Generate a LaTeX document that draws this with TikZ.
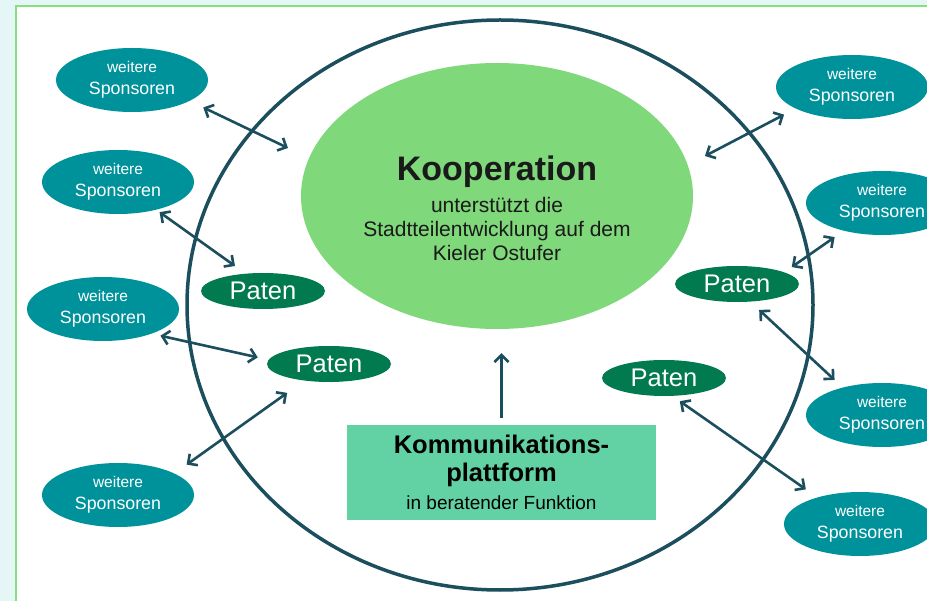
\documentclass[tikz,border=0pt]{standalone}
\usepackage{fontspec}
\setmainfont{Liberation Sans}
\usetikzlibrary{arrows.meta,shapes.geometric}
\definecolor{bgcol}{HTML}{E4F6F6}
\definecolor{framecol}{HTML}{86E07E}
\definecolor{ringcol}{HTML}{1C4F5E}
\definecolor{sponsorcol}{HTML}{00929B}
\definecolor{patecol}{HTML}{007A4E}
\definecolor{koopcol}{HTML}{7FD87A}
\definecolor{boxcol}{HTML}{62D1A3}
\definecolor{textcol}{HTML}{1A1A1A}
\newcommand{\weitere}{{\fontsize{15.5}{22}\selectfont weitere}\\Sponsoren}
\tikzset{>/.tip={Straight Barb[length=7pt,width=14pt]},
  sponsor/.style={ellipse, fill=sponsorcol, text=white, minimum width=152pt,
    minimum height=64pt, inner sep=0pt, align=center,
    font=\fontsize{17.8}{22}\selectfont},
  pate/.style={ellipse, fill=patecol, text=white, minimum width=124pt,
    minimum height=36pt, inner sep=0pt, font=\fontsize{25.5}{30}\selectfont},
  link/.style={<->, draw=ringcol, line width=2.6pt}}
\begin{document}
\begin{tikzpicture}[x=1pt,y=-1pt]
\useasboundingbox (0,0) rectangle (927,601);
\clip (0,0) rectangle (927,601);
% frame
\fill[bgcol] (0,0) rectangle (927,601);
\filldraw[fill=white, draw=framecol, line width=2pt] (16,6) rectangle (940,612);
% ring
\draw[ringcol, line width=3.5pt] (500,305) ellipse [x radius=313pt, y radius=285pt];
% centre
\node[ellipse, fill=koopcol, minimum width=392pt, minimum height=266pt] (koop) at (497,196) {};
\node[align=center, text=textcol, font=\fontsize{21}{24}\selectfont] (kooptext) at (497,208)
  {{\fontsize{34}{40}\selectfont\bfseries Kooperation}\\[8pt]unterstützt die\\Stadtteilentwicklung auf dem\\Kieler Ostufer};
\node[fill=boxcol, minimum width=309pt, minimum height=95pt, align=center,
  font=\fontsize{25.5}{28}\selectfont\bfseries] (kp) at (501.5,472.5)
  {Kommunikations-\\plattform\\{\fontsize{19}{27}\selectfont\mdseries in beratender Funktion}};
% Paten
\node[pate] (pat1) at (263,291) {Paten};
\node[pate] (pat2) at (329,364) {Paten};
\node[pate] (pat3) at (737,284) {Paten};
\node[pate] (pat4) at (664,378) {Paten};
% Sponsoren
\node[sponsor] (sp1) at (132,80)  {\weitere};
\node[sponsor] (sp2) at (118,182) {\weitere};
\node[sponsor] (sp3) at (103,309) {\weitere};
\node[sponsor] (sp4) at (118,495) {\weitere};
\node[sponsor] (sp5) at (852,87)  {\weitere};
\node[sponsor] (sp6) at (882,203) {\weitere};
\node[sponsor] (sp7) at (882,415) {\weitere};
\node[sponsor] (sp8) at (860,524) {\weitere};
\coordinate (ka) at (288,148);
\coordinate (ke) at (705,156);
% links
\draw[link, shorten <=15pt] (sp1.-20) -- (ka);
\draw[link, shorten <=4pt, shorten >=13pt] (sp2.-36) -- (pat1.135);
\draw[link, shorten <=9pt, shorten >=11pt] (sp3.-27) -- (pat2.176);
\draw[link, shorten <=21pt, shorten >=15pt] (pat2.-146) -- (sp4.21);
\draw[link, shorten >=13pt] (ke) -- (sp5.-159);
\draw[link, shorten <=9pt, shorten >=11pt] (pat3.14) -- (sp6.-144);
\draw[link, shorten <=12pt, shorten >=11pt] (pat3.-53) -- (sp7.145);
\draw[link, shorten <=9pt, shorten >=14pt] (pat4.-65) -- (sp8.148);
\draw[->, draw=ringcol, line width=2.6pt, shorten <=7pt, shorten >=24pt] (kp.north) -- (kp.north |- koop.south);
\end{tikzpicture}
\end{document}
